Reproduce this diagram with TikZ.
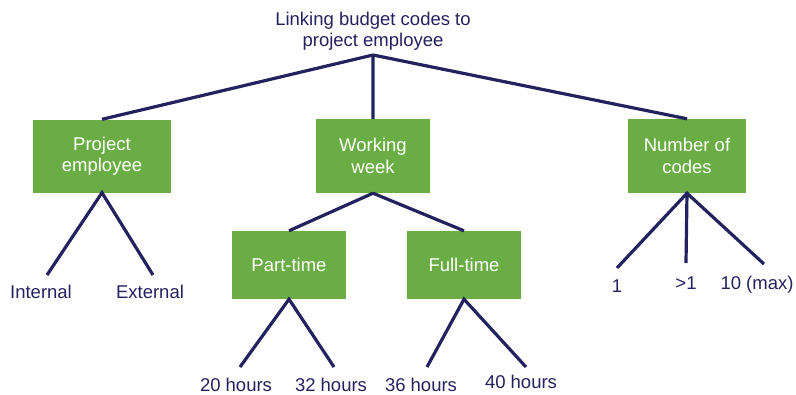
\documentclass[tikz,border=0pt]{standalone}
\usepackage{fontspec}
\setmainfont{Liberation Sans}
\definecolor{navy}{HTML}{24225E}
\definecolor{boxgreen}{HTML}{6AAD45}
\tikzset{
  box/.style={fill=boxgreen, text=white, align=center, inner sep=0pt},
  item/.style={text=navy, anchor=base, inner sep=0pt},
  link/.style={draw=navy, line width=3.2pt},
}
\begin{document}
\begin{tikzpicture}[x=1pt,y=-1pt,font=\fontsize{18.5}{21.5}\selectfont]
\useasboundingbox (0,0) rectangle (796,394);
\node[text=navy,align=center,inner sep=0pt] (title) at (373,31) {Linking budget codes to\\project employee};
\coordinate (root) at (373,55);
\node[box,minimum width=138pt,minimum height=73pt] (emp) at (102,156) {Project\\employee};
\node[box,minimum width=114pt,minimum height=74pt] (week) at (373,156) {Working\\week};
\node[box,minimum width=118pt,minimum height=74pt] (codes) at (687,156) {Number of\\codes};
\node[box,minimum width=114pt,minimum height=68pt] (part) at (289,265) {Part-time};
\node[box,minimum width=114pt,minimum height=68pt] (full) at (464,265) {Full-time};
\draw[link] (root) -- (emp.north) (root) -- (week.north) (root) -- (codes.north);
\draw[link] (week.south) -- (part.north) (week.south) -- (full.north);
\coordinate (e1) at (47,275); \coordinate (e2) at (153,275);
\coordinate (p1) at (240,367); \coordinate (p2) at (334,367);
\coordinate (f1) at (427,367); \coordinate (f2) at (526,367);
\coordinate (c1) at (617,268); \coordinate (c2) at (686,263); \coordinate (c3) at (764,264);
\draw[link] (e1) -- (emp.south) -- (e2);
\draw[link] (p1) -- (part.south) -- (p2);
\draw[link] (f1) -- (full.south) -- (f2);
\draw[link] (c1) -- (codes.south) -- (c3) (codes.south) -- (c2);
\node[item] (internal) at (41,298) {Internal};
\node[item] (external) at (150,298) {External};
\node[item] (h20) at (236,391) {20 hours};
\node[item] (h32) at (331,391) {32 hours};
\node[item] (h36) at (421,391) {36 hours};
\node[item] (h40) at (521,388) {40 hours};
\node[item] (one) at (617,292) {1};
\node[item] (more) at (686,289) {>1};
\node[item] (max) at (757,289) {10 (max)};
\end{tikzpicture}
\end{document}
